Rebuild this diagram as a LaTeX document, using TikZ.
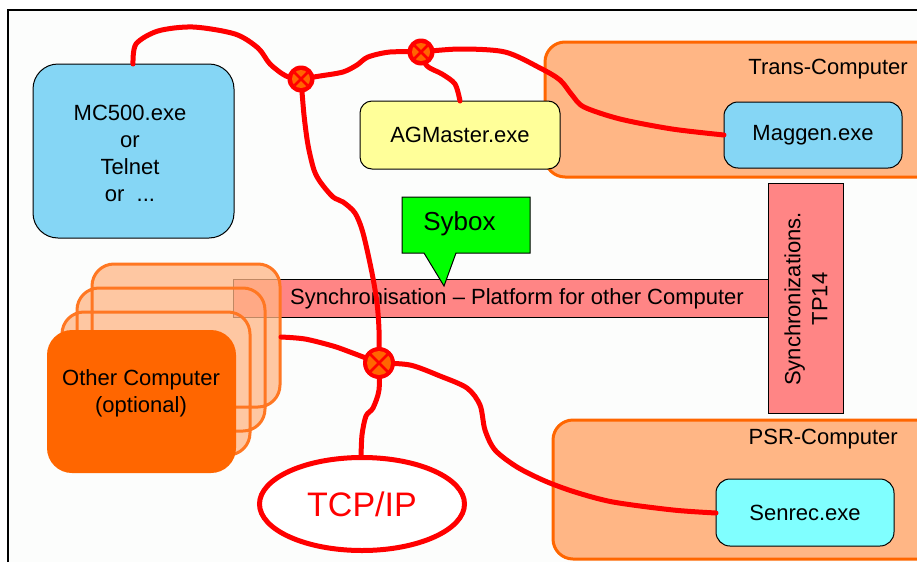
\documentclass[tikz,border=0pt]{standalone}
\usepackage{fontspec}
\setmainfont{Liberation Sans}
\usetikzlibrary{shapes.geometric}
\definecolor{bgc}{HTML}{FCFDFC}
\definecolor{cblue}{HTML}{85D6F5}
\definecolor{ccyan}{HTML}{80FFFF}
\definecolor{cyel}{HTML}{FFFF99}
\definecolor{cpink}{HTML}{FF8585}
\definecolor{cgreen}{HTML}{00FF00}
\definecolor{corange}{HTML}{FF6600}
\definecolor{clight}{HTML}{FFB685}
\definecolor{cborder}{HTML}{FF7722}
\newcommand\junction[4]{%
  \node[junc, minimum size=#3] (#1) at #2 {};
  \fill[corange] (#1.center) circle (#4);
  \draw[red, line width=2.6pt] ([shift={(-#4*0.72,-#4*0.72)}]#1.center) -- ([shift={(#4*0.72,#4*0.72)}]#1.center)
    ([shift={(-#4*0.72,#4*0.72)}]#1.center) -- ([shift={(#4*0.72,-#4*0.72)}]#1.center);
}
\begin{document}
\begin{tikzpicture}[x=1pt,y=-1pt,
  every node/.style={font=\fontsize{22}{27}\selectfont, inner sep=0pt, align=center},
  prog/.style={draw=black, line width=1pt, rounded corners=14pt, minimum width=178pt, minimum height=66pt},
  container/.style={draw=corange, line width=3pt, fill=clight, rounded corners=20pt},
  syncbox/.style={draw=black, line width=0.8pt, fill=cpink},
  cable/.style={draw=red, line width=5pt, line cap=round, line join=round},
  junc/.style={circle, fill=red},
  backbox/.style={rounded corners=22pt},
]
\clip (0,0) rectangle (917,562);
\fill[white] (0,0) rectangle (917,562);
\fill[bgc] (8,10) rectangle (917,562);
\draw[black, line width=2.5pt] (8,562) -- (8,10) -- (917,10);

% containers
\node[container, minimum width=405pt, minimum height=135pt] (trans) at (747.5,109.5) {};
\node[container, minimum width=397pt, minimum height=139pt] (psr) at (751.5,489.5) {};
\node[anchor=east] (translbl) at (908,69) {Trans-Computer};
\node[anchor=east] (psrlbl) at (898,439) {PSR-Computer};

% programs
\node[prog, fill=cyel, rounded corners=12pt, minimum width=200pt, minimum height=68pt] (ag) at (460,135) {AGMaster.exe};
\node[prog, fill=cblue] (mg) at (813,135) {Maggen.exe};
\node[prog, fill=ccyan, minimum height=67pt] (sr) at (805,512.5) {Senrec.exe};
\node[prog, fill=cblue, rounded corners=25pt, minimum width=201pt, minimum height=174pt] (mc) at (133.5,151) {};
\node (mctxt) at (130,153) {MC500.exe\\or\\Telnet\\or\ \ ...};

% synchronisation bars
\node[syncbox, minimum width=535pt, minimum height=38pt] (bar) at (500.5,298) {};
\node (bartxt) at (517,299) {Synchronisation – Platform for other Computer};
\node[syncbox, minimum width=75pt, minimum height=230pt] (tp) at (805.5,298) {};
\node[rotate=90] (tptxt) at (806,299) {Synchronizations.\\TP14};

% Sybox callout
\draw[fill=cgreen, line width=1pt] (402,197) -- (530,197) -- (530,253) -- (456,253) -- (444,286) -- (424,253) -- (402,253) -- cycle;
\node[font=\fontsize{26}{30}\selectfont] (sybox) at (459.5,224) {Sybox};

% other computer stack
\fill[clight, fill opacity=0.75, backbox] (92,264) rectangle (280,407) (77,288) rectangle (265,431) (62,312) rectangle (250,455);
\draw[cborder, line width=3pt, backbox] (92,264) rectangle (280,407) (77,288) rectangle (265,431) (62,312) rectangle (250,455);
\node[fill=corange, rounded corners=25pt, minimum width=189pt, minimum height=143pt] (oc) at (141.5,401.5) {};
\node (octxt) at (141,393) {Other Computer\\(optional)};
\coordinate (ocport) at (281,337);

% junction positions
\coordinate (p1) at (301,79);
\coordinate (p2) at (421,52);
\coordinate (p3) at (379,363);

% cables
\draw[cable] plot[smooth] coordinates {(133,64) (136,44) (158,31) (193,27) (235,34) (258,48) (270,64) (286,76) (p1)};
\draw[cable] plot[smooth] coordinates {(p1) (320,76) (343,72) (357,65) (368,57) (390,52) (p2)};
\draw[cable] plot[smooth] coordinates {(p2) (427,66) (442,74) (455,84) (460,101)};
\draw[cable] plot[smooth] coordinates {(p2) (460,49) (505,52) (540,68) (560,80) (572,95) (584,107) (620,119) (672,129) (724,135)};
\draw[cable] plot[smooth] coordinates {(p1) (304,115) (308,145) (314,170) (321,183) (333,197) (343,202) (355,213) (363,233) (372,273) (377,303) (379,330) (p3)};
\draw[cable] plot[smooth] coordinates {(p3) (350,352) (333,346) (305,339) (ocport)};
\draw[cable] plot[smooth] coordinates {(p3) (379,390) (373,408) (366,416) (362,435) (361,458)};
\draw[cable] plot[smooth] coordinates {(p3) (410,365) (440,376) (467,388) (480,405) (485,430) (495,450) (517,467) (545,481) (575,492) (613,502) (673,510) (716,513)};

% TCP/IP
\node[ellipse, draw=red, line width=5pt, fill=white, minimum width=205pt, minimum height=93pt, text=red, font=\fontsize{34}{40}\selectfont] (tcp) at (362,504) {TCP/IP};

% junctions
\junction{j1}{(p1)}{27pt}{9pt}
\junction{j2}{(p2)}{27pt}{9pt}
\junction{j3}{(p3)}{32pt}{12pt}
\end{tikzpicture}
\end{document}
